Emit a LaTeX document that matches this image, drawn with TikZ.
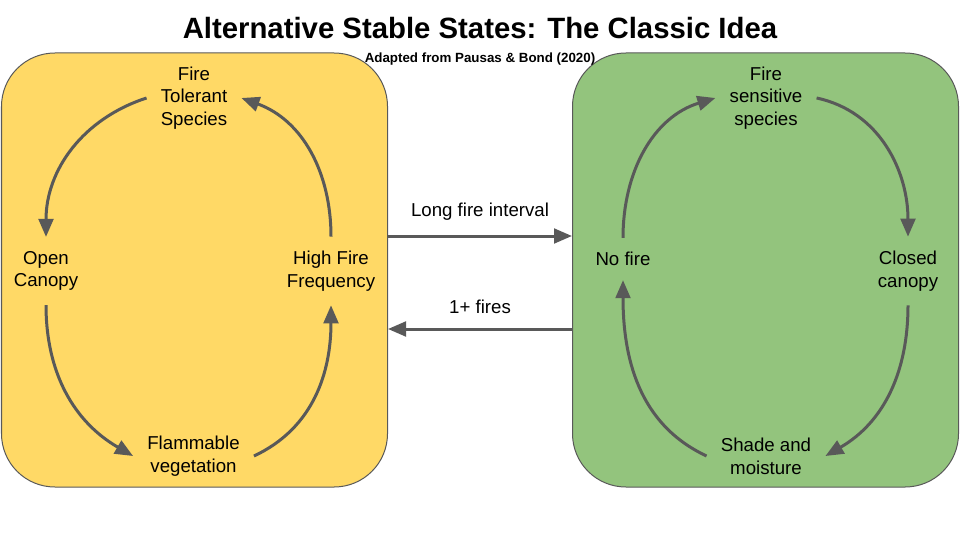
\documentclass[tikz,border=0pt]{standalone}
\usepackage{fontspec}
\setmainfont{Liberation Sans}
\usetikzlibrary{arrows.meta}
\usetikzlibrary{calc}
\definecolor{dryyellow}{HTML}{FFD966}
\definecolor{wetgreen}{HTML}{93C47D}
\definecolor{arrowgrey}{HTML}{595959}

\begin{document}
\begin{tikzpicture}[x=0.75pt, y=0.75pt, font=\fontsize{14}{17}\selectfont]
                \tikzstyle{state} = [draw=black!65, line width=0.75pt, fill={#1}, rounded corners=40pt, minimum width=289.5pt, minimum height=325.5pt]
                \tikzstyle{stage} = [align=center, inner sep=10.5pt]
                \tikzstyle{link} = [line width=2.25pt, color=arrowgrey, -{Triangle[length=13.5pt, width=11pt]}]
                \useasboundingbox (0, 0) rectangle (960, 540);
                \clip (0, 0) rectangle (960, 540);
                \node[state=dryyellow] (dry) at (194.5, 270) {};
                \node[state=wetgreen] (wet) at (765.5, 270) {};
                \node[font=\bfseries\fontsize{22}{26}\selectfont] (title) at (480, 512) {Alternative Stable States: The Classic Idea};
                \node[font=\bfseries\fontsize{10}{12}\selectfont] (source) at (480, 481) {Adapted from Pausas \& Bond (2020)};
                % fire-maintained state
                \node[stage] (tol) at (194, 442) {Fire\\Tolerant\\Species};
                \node[stage] (open) at (46, 269) {Open\\Canopy};
                \node[stage] (high) at (331, 269) {High Fire\\Frequency};
                \node[stage] (flam) at (193.5, 84) {Flammable\\vegetation};
                \draw[link] (tol.west) to[out=198, in=90] (open.north);
                \draw[link] (high.north) to[out=90, in=-20] (tol.east);
                \draw[link] (open.south) to[out=-90, in=150] (flam.west);
                \draw[link] (flam.east) to[out=25, in=-90] (high.south);
                % fire-suppressed state
                \node[stage] (sens) at (766, 442) {Fire\\sensitive\\species};
                \node[stage] (nofire) at (623, 281) {No fire};
                \node[stage] (closed) at (908, 269) {Closed\\canopy};
                \node[stage] (shade) at (766, 84) {Shade and\\moisture};
                \draw[link] (nofire.north) to[out=90, in=197] (sens.west);
                \draw[link] (sens.east) to[out=-12, in=90] (closed.north);
                \draw[link] (closed.south) to[out=-90, in=30] (shade.east);
                \draw[link] (shade.west) to[out=155, in=-90] (nofire.south);
                % switches between states
                \draw[link] ($(dry.east)+(0, 34)$) -- ($(wet.west)+(0, 34)$) node[midway, above=7pt, text=black] (longlbl) {Long fire interval};
                \draw[link] ($(wet.west)+(0, -59)$) -- ($(dry.east)+(0, -59)$) node[midway, above=7pt, text=black] (firelbl) {1+ fires};
            \end{tikzpicture}
\end{document}
